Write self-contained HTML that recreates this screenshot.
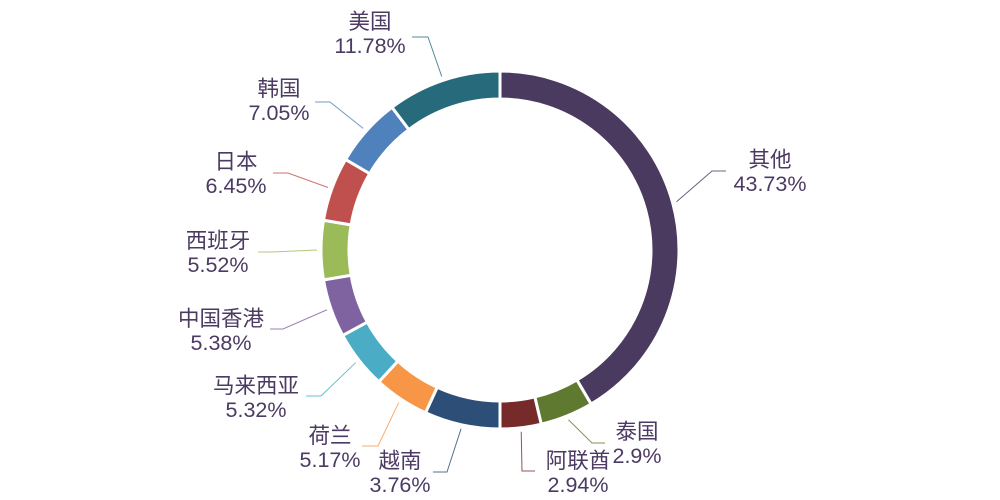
<!DOCTYPE html>
<html><head><meta charset="utf-8"><style>
html,body{margin:0;padding:0;background:#fff;}
svg{display:block;}
text{font-family:"Liberation Sans","Noto Sans CJK SC",sans-serif;font-size:21.5px;fill:#4b3a62;text-anchor:middle;}
</style></head><body>
<svg id="chart" width="1000" height="500" viewBox="0 0 1000 500"></svg>
<script>
const categories=["其他","泰国","阿联酋","越南","荷兰","马来西亚","中国香港","西班牙","日本","韩国","美国"];
// slice sizes as drawn in the reference (percent of circle)
const values=[41.5,4.8,3.7,6.83,5.0,5.25,5.25,5.33,5.78,6.25,10.31];
const valueLabels=["43.73%","2.9%","2.94%","3.76%","5.17%","5.32%","5.38%","5.52%","6.45%","7.05%","11.78%"];
const colors=["#4b3a60","#5f7a30","#772a2a","#2c4e77","#f79646","#4aacc5","#7f63a1","#9bbb59","#c0504d","#4f81bd","#266a7b"];
// label layout: elbow x,y, line end x, text center x, first baseline
const layout=[
 [712,171,726,770,167],[592,443,605,637,439],[522,471,535,578,468],[447,472,433,400,468],
 [378,446,362,330,443],[321,396,306,256,393],[283,329,270,221,326],[272,252,258,218,248],
 [288,173,273,236,169],[330,102,315,279,96],[428,37,412,370,29]];
const cx=500,cy=250,R=179,r=151;
const svg=document.getElementById('chart');
const NS="http://www.w3.org/2000/svg";
const total=values.reduce((a,b)=>a+b,0);
function pt(rad,a){return [cx+rad*Math.sin(a),cy-rad*Math.cos(a)];}
let acc=0;
values.forEach((v,i)=>{
  const a0=acc/total*2*Math.PI, a1=(acc+v)/total*2*Math.PI; acc+=v;
  const large=(a1-a0)>Math.PI?1:0;
  const p1=pt(R,a0),p2=pt(R,a1),p3=pt(r,a1),p4=pt(r,a0);
  const path=document.createElementNS(NS,'path');
  path.setAttribute('d',`M${p1[0]},${p1[1]}A${R},${R} 0 ${large} 1 ${p2[0]},${p2[1]}L${p3[0]},${p3[1]}A${r},${r} 0 ${large} 0 ${p4[0]},${p4[1]}Z`);
  path.setAttribute('fill',colors[i]);
  path.setAttribute('stroke','#fff');
  path.setAttribute('stroke-width','3');
  
  
  svg.appendChild(path);
  const am=(a0+a1)/2, s=pt(R+4,am), L=layout[i];
  const line=document.createElementNS(NS,'polyline');
  line.setAttribute('points',`${s[0]},${s[1]} ${L[0]},${L[1]} ${L[2]},${L[1]}`);
  line.setAttribute('fill','none');
  line.setAttribute('stroke',colors[i]);
  line.setAttribute('stroke-opacity','0.8');
  line.setAttribute('stroke-width','1');
  
  
  svg.appendChild(line);
  const t1=document.createElementNS(NS,'text');
  t1.setAttribute('x',L[3]);t1.setAttribute('y',L[4]);
  t1.textContent=categories[i];
  
  
  svg.appendChild(t1);
  const t2=document.createElementNS(NS,'text');
  t2.setAttribute('x',L[3]);t2.setAttribute('y',L[4]+24);
  t2.textContent=valueLabels[i];
  
  
  svg.appendChild(t2);
});
</script>
</body></html>
